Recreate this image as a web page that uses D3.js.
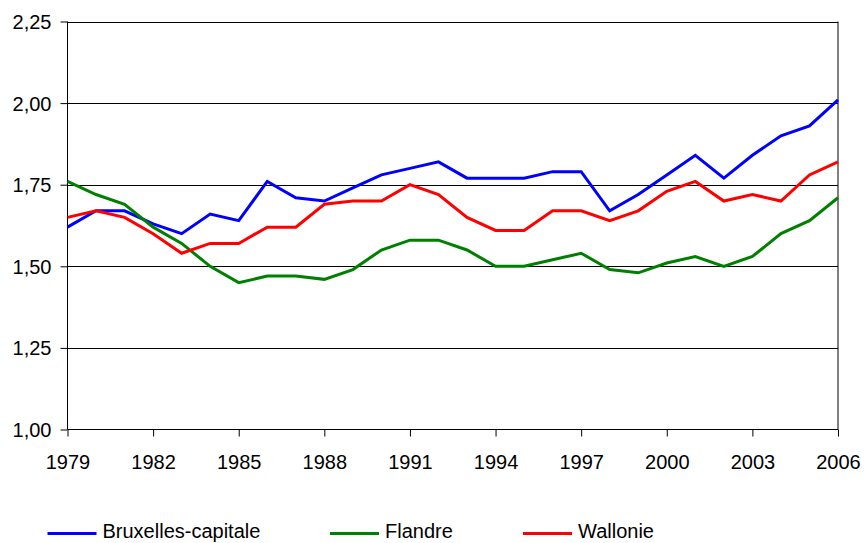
<!DOCTYPE html>
<html>
<head>
<meta charset="utf-8">
<script src="https://cdn.jsdelivr.net/npm/d3@7"></script>
<style>
  html, body { margin: 0; padding: 0; background: #fff; }
  svg { display: block; }
  text { font-family: "Liberation Sans", Arial, Helvetica, sans-serif; fill: #000; }
</style>
</head>
<body>
<svg id="chart" width="864" height="543"></svg>
<script>
const years = d3.range(1979, 2007);
const tickYears = [1979, 1982, 1985, 1988, 1991, 1994, 1997, 2000, 2003, 2006];
const yTicks = [1.00, 1.25, 1.50, 1.75, 2.00, 2.25];

const bruxelles = [1.62, 1.67, 1.67, 1.63, 1.60, 1.66, 1.64, 1.76, 1.71, 1.70,
                   1.74, 1.78, 1.80, 1.82, 1.77, 1.77, 1.77, 1.79, 1.79, 1.67,
                   1.72, 1.78, 1.84, 1.77, 1.84, 1.90, 1.93, 2.01];
const flandre   = [1.76, 1.72, 1.69, 1.62, 1.57, 1.50, 1.45, 1.47, 1.47, 1.46,
                   1.49, 1.55, 1.58, 1.58, 1.55, 1.50, 1.50, 1.52, 1.54, 1.49,
                   1.48, 1.51, 1.53, 1.50, 1.53, 1.60, 1.64, 1.71];
const wallonie  = [1.65, 1.67, 1.65, 1.60, 1.54, 1.57, 1.57, 1.62, 1.62, 1.69,
                   1.70, 1.70, 1.75, 1.72, 1.65, 1.61, 1.61, 1.67, 1.67, 1.64,
                   1.67, 1.73, 1.76, 1.70, 1.72, 1.70, 1.78, 1.82];

const seriesNames = ["Bruxelles-capitale", "Flandre", "Wallonie"];
const seriesValues = [bruxelles, flandre, wallonie];
const seriesColors = ["#0000ff", "#008000", "#ff0000"];

const svg = d3.select("#chart");
const pLeft = 67.5, pRight = 838, pTop = 21.5, pBottom = 429.5;

const x = d3.scaleLinear().domain([1979, 2006]).range([pLeft, pRight]);
const y = d3.scaleLinear().domain([1.00, 2.25]).range([pBottom, pTop]);
const fmt = v => d3.format(".2f")(v).replace(".", ",");

// gridlines
svg.append("g").selectAll("line")
  .data(yTicks.filter(v => v > 1.0))
  .join("line")
  .attr("x1", pLeft).attr("x2", pRight)
  .attr("y1", d => Math.round(y(d)) + 0.5).attr("y2", d => Math.round(y(d)) + 0.5)
  .attr("stroke", "#000").attr("stroke-width", 1);

// right border
svg.append("line")
  .attr("x1", pRight).attr("x2", pRight)
  .attr("y1", pTop).attr("y2", pBottom)
  .attr("stroke", "#000").attr("stroke-width", 1);

// y axis
const yAxis = d3.axisLeft(y).tickValues(yTicks).tickFormat(fmt).tickSize(7).tickPadding(9);
const gy = svg.append("g").attr("transform", `translate(${pLeft},0)`).call(yAxis);
gy.select(".domain").attr("d", `M0,${pTop}V${pBottom}`).attr("stroke", "#000");
gy.selectAll(".tick line").attr("stroke", "#000");
gy.selectAll(".tick text").attr("font-size", 20).attr("dy", "0.35em")
  .style("font-family", "'Liberation Sans', Arial, Helvetica, sans-serif").attr("fill", "#000");

// x axis
const xAxis = d3.axisBottom(x).tickValues(tickYears).tickFormat(d3.format("d")).tickSize(7).tickPadding(18);
const gx = svg.append("g").attr("transform", `translate(0,${pBottom})`).call(xAxis);
gx.select(".domain").attr("d", `M${pLeft},0H${pRight}`).attr("stroke", "#000");
gx.selectAll(".tick line").attr("stroke", "#000");
gx.selectAll(".tick text").attr("font-size", 20)
  .style("font-family", "'Liberation Sans', Arial, Helvetica, sans-serif").attr("fill", "#000");

// lines
const line = d3.line().x((d, i) => x(years[i])).y(d => y(d));
svg.append("g").selectAll("path")
  .data(seriesValues)
  .join("path")
  .attr("d", d => line(d))
  .attr("fill", "none")
  .attr("stroke", (d, i) => seriesColors[i])
  .attr("stroke-width", 3)
  .attr("stroke-linejoin", "miter");

// legend
const legendX = [47.5, 330, 523];
const legendY = 533.5;
const lg = svg.append("g").selectAll("g")
  .data(seriesNames)
  .join("g")
  .attr("transform", (d, i) => `translate(${legendX[i]},${legendY})`);
lg.append("line")
  .attr("x1", 0).attr("x2", 49).attr("y1", 0).attr("y2", 0)
  .attr("stroke", (d, i) => seriesColors[i]).attr("stroke-width", 3);
lg.append("text")
  .attr("x", 55).attr("y", 4.5)
  .attr("font-size", 20)
  .text(d => d);
</script>
</body>
</html>
